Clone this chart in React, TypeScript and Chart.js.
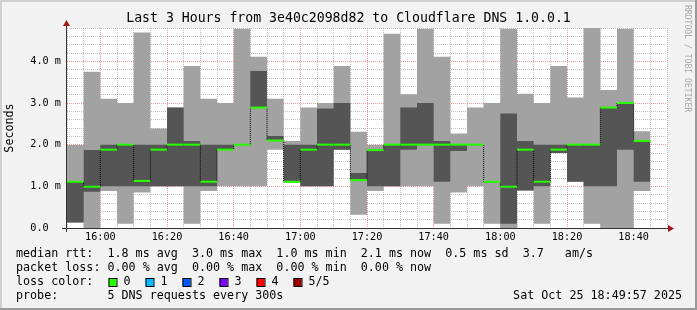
import React, { useEffect, useRef } from "react";
import { Chart, registerables } from "chart.js";

Chart.register(...registerables);

// ---- data (ms), one value per 5-minute step starting 15:50 ----
const stepMinutes = 5;
const windowMinutes = 180;
const maxRtt = [1.99, 3.75, 3.1, 3.0, 4.69, 2.39, 2.89, 3.89, 3.1, 3.0, 4.78, 4.11, 3.1, 2.09, 2.89, 3.0, 3.89, 2.31, 1.99, 4.66, 3.21, 4.78, 4.11, 2.27, 2.89, 3.0, 4.78, 3.22, 3.0, 3.89, 3.13, 4.8, 3.31, 4.78, 2.32];
const upperRtt = [1.11, 1.87, 2.0, 2.0, 2.0, 2.0, 2.89, 2.09, 2.0, 2.0, 2.0, 3.77, 2.21, 2.0, 2.0, 2.87, 3.0, 1.32, 1.88, 2.0, 2.89, 3.0, 2.09, 2.0, 2.0, 1.11, 2.75, 2.09, 2.0, 2.0, 2.0, 2.0, 2.89, 3.0, 2.09];
const medianRtt = [1.11, 0.99, 1.88, 2.0, 1.13, 1.88, 2.0, 2.0, 1.11, 1.88, 2.0, 2.89, 2.1, 1.11, 1.88, 2.0, 2.0, 1.15, 1.87, 2.0, 2.0, 2.0, 2.0, 2.0, 2.0, 1.11, 0.99, 1.88, 1.11, 1.88, 2.0, 2.0, 2.89, 3.0, 2.09];
const lowerRtt = [0.13, 0.87, 1.0, 1.0, 1.0, 1.0, 1.0, 1.0, 1.0, 1.88, 2.0, 2.89, 2.1, 1.1, 1.0, 1.0, 1.88, 1.15, 1.0, 1.0, 1.88, 2.0, 1.11, 1.85, 2.0, 1.11, 0.1, 0.9, 1.0, 1.8, 1.11, 1.0, 1.0, 1.88, 1.11];
const minRtt = [0.13, 0.0, 0.89, 0.1, 0.85, 1.0, 1.0, 0.1, 0.89, 1.0, 1.0, 1.0, 1.88, 1.1, 1.0, 1.0, 1.88, 0.32, 0.89, 1.0, 1.0, 1.0, 0.1, 0.85, 1.0, 0.1, 0.0, 0.9, 0.1, 1.8, 1.11, 0.1, 0.0, 0.0, 0.89];

const xTickLabels = ["16:00", "16:20", "16:40", "17:00", "17:20", "17:40", "18:00", "18:20", "18:40"];
const firstLabelOffset = 10; // minutes from window start (15:50) to 16:00
const yTickLabels = ["0.0  ", "1.0 m", "2.0 m", "3.0 m", "4.0 m"];
const yMax = 4.8;

const titleText = "Last 3 Hours from 3e40c2098d82 to Cloudflare DNS 1.0.0.1";
const yAxisTitle = "Seconds";
const rttStats = ["1.8 ms avg", "3.0 ms max", "1.0 ms min", "2.1 ms now", "0.5 ms sd"];
const amsValue = "3.7";
const lossStats = ["0.00 % avg", "0.00 % max", "0.00 % min", "0.00 % now"];
const lossLabels = ["0", "1", "2", "3", "4", "5/5"];
const lossColors = ["#26ff00", "#00b8ff", "#0059ff", "#7e00ff", "#ff0000", "#a10000"];
const probeText = "5 DNS requests every 300s";
const dateText = "Sat Oct 25 18:49:57 2025";
const watermark = "RRDTOOL / TOBI OETIKER";

const LIGHT = "#a2a2a2";
const DARK = "#555555";
const GREEN = lossColors[0];
const MONO = "'DejaVu Sans Mono', monospace";

function steps(values: number[]) {
  const pts: { x: number; y: number }[] = [];
  values.forEach((v, i) => {
    pts.push({ x: i * stepMinutes, y: v });
    pts.push({ x: (i + 1) * stepMinutes, y: v });
  });
  return pts;
}

const isMajorX = (v: number) => Math.abs(((v - firstLabelOffset) % 20 + 20) % 20) < 1e-6;
const isMajorY = (v: number) => Math.abs(v - Math.round(v)) < 1e-6;

const decoPlugin = {
  id: "deco",
  beforeDraw(chart: any) {
    const { ctx, chartArea: a, width: W, height: H } = chart;
    ctx.save();
    ctx.fillStyle = "#f2f2f2";
    ctx.fillRect(0, 0, W, H);
    ctx.fillStyle = "#cfcfcf";
    ctx.fillRect(0, 0, W, 2);
    ctx.fillRect(0, 0, 2, H);
    ctx.fillStyle = "#9a9a9a";
    ctx.fillRect(0, H - 2, W, 2);
    ctx.fillRect(W - 2, 0, 2, H);
    ctx.fillStyle = "#ffffff";
    ctx.fillRect(a.left, a.top, a.right - a.left, a.bottom - a.top);
    ctx.restore();
  },
  afterDraw(chart: any) {
    const { ctx, chartArea: a, width: W } = chart;
    ctx.save();
    // axes
    ctx.strokeStyle = "#333333";
    ctx.lineWidth = 1;
    ctx.beginPath();
    ctx.moveTo(a.left - 0.5, a.bottom + 4);
    ctx.lineTo(a.left - 0.5, a.top - 3);
    ctx.moveTo(a.left - 5, a.bottom + 0.5);
    ctx.lineTo(a.right + 3, a.bottom + 0.5);
    ctx.stroke();
    ctx.fillStyle = "#a01818";
    ctx.beginPath();
    ctx.moveTo(a.left - 0.5, a.top - 8);
    ctx.lineTo(a.left - 4, a.top - 2);
    ctx.lineTo(a.left + 3, a.top - 2);
    ctx.closePath();
    ctx.fill();
    ctx.beginPath();
    ctx.moveTo(a.right + 7, a.bottom + 0.5);
    ctx.lineTo(a.right + 1, a.bottom - 3);
    ctx.lineTo(a.right + 1, a.bottom + 4);
    ctx.closePath();
    ctx.fill();

    // title
    ctx.fillStyle = "#000";
    ctx.font = `13.2px ${MONO}`;
    ctx.textAlign = "center";
    ctx.textBaseline = "middle";
    ctx.fillText(titleText, W / 2, 19);

    // y axis title
    ctx.save();
    ctx.font = `11.7px ${MONO}`;
    ctx.translate(10, (a.top + a.bottom) / 2);
    ctx.rotate(-Math.PI / 2);
    ctx.fillText(yAxisTitle, 0, 0);
    ctx.restore();

    // watermark
    ctx.save();
    ctx.font = `8.1px ${MONO}`;
    ctx.fillStyle = "#a8a8a8";
    ctx.translate(687, 5);
    ctx.rotate(Math.PI / 2);
    ctx.textAlign = "left";
    ctx.fillText(watermark, 0, 0);
    ctx.restore();

    // legend
    ctx.font = `11.7px ${MONO}`;
    ctx.textAlign = "left";
    ctx.textBaseline = "middle";
    ctx.fillStyle = "#000";
    const x0 = 16;
    const line1 = "median rtt:  " + rttStats.join("  ") + "  " + amsValue + "   am/s";
    const line2 = "packet loss: " + lossStats.join("  ");
    ctx.fillText(line1, x0, 254);
    ctx.fillText(line2, x0, 268);
    ctx.fillText("loss color:", x0, 282);
    lossLabels.forEach((lab, i) => {
      const sx = 108.5 + i * 37;
      ctx.fillStyle = lossColors[i];
      ctx.fillRect(sx, 278, 8, 8);
      ctx.strokeStyle = "#000";
      ctx.lineWidth = 1;
      ctx.strokeRect(sx + 0.5, 278.5, 8, 8);
      ctx.fillStyle = "#000";
      ctx.fillText(lab, sx + 15, 282);
    });
    ctx.fillText("probe:       " + probeText, x0, 296);
    ctx.textAlign = "right";
    ctx.fillText(dateText, 682, 296);
    ctx.restore();
  },
};

export default function App() {
  const ref = useRef<HTMLCanvasElement | null>(null);
  useEffect(() => {
    if (!ref.current) return;
    const base = { pointRadius: 0, borderWidth: 0, tension: 0, fill: false as any };
    const chart = new Chart(ref.current, {
      type: "line",
      data: {
        datasets: [
          {
            ...base,
            label: "median",
            data: steps(medianRtt),
            borderWidth: 2,
            borderColor: GREEN,
            borderCapStyle: "butt",
            segment: {
              borderColor: (c: any) => (c.p0.parsed.x === c.p1.parsed.x ? "rgba(0,0,0,0)" : GREEN),
            },
          },
          {
            ...base,
            label: "median-steps",
            data: steps(medianRtt),
            borderWidth: 1,
            borderColor: "#000",
            borderDash: [1, 1],
          },
          { ...base, label: "upper", data: steps(upperRtt), fill: 3, backgroundColor: DARK },
          { ...base, label: "lower", data: steps(lowerRtt) },
          { ...base, label: "max", data: steps(maxRtt), fill: 5, backgroundColor: LIGHT },
          { ...base, label: "min", data: steps(minRtt) },
        ],
      },
      options: {
        animation: false,
        responsive: false,
        maintainAspectRatio: false,
        devicePixelRatio: 1,
        layout: { padding: { left: 0, top: 28, right: 30, bottom: 0 } },
        plugins: { legend: { display: false }, tooltip: { enabled: false }, title: { display: false } },
        scales: {
          x: {
            type: "linear",
            min: 0,
            max: windowMinutes,
            z: 1,
            afterFit: (s: any) => {
              s.height = 82;
            },
            ticks: {
              stepSize: stepMinutes,
              autoSkip: false,
              maxRotation: 0,
              padding: 3,
              color: "#000",
              font: { family: MONO, size: 10.2 },
              callback: (v: any) =>
                isMajorX(Number(v)) ? xTickLabels[Math.round((Number(v) - firstLabelOffset) / 20)] ?? "" : "",
            },
            grid: {
              drawTicks: false,
              lineWidth: 1,
              color: (c: any) => (isMajorX(c.tick.value) ? "rgba(240,120,120,0.75)" : "rgba(150,150,150,0.6)"),
            },
            border: { display: false, dash: [1, 1] },
          },
          y: {
            type: "linear",
            min: 0,
            max: yMax,
            z: 1,
            afterFit: (s: any) => {
              s.width = 67;
            },
            ticks: {
              stepSize: 0.2,
              autoSkip: false,
              padding: 6,
              color: "#000",
              font: { family: MONO, size: 10.2 },
              callback: (v: any) => (isMajorY(Number(v)) ? yTickLabels[Math.round(Number(v))] ?? "" : ""),
            },
            grid: {
              drawTicks: false,
              lineWidth: 1,
              color: (c: any) => (isMajorY(c.tick.value) ? "rgba(240,120,120,0.75)" : "rgba(150,150,150,0.6)"),
            },
            border: { display: false, dash: [1, 1] },
          },
        },
      } as any,
      plugins: [decoPlugin],
    });
    return () => chart.destroy();
  }, []);
  return (
    <div style={{ position: "absolute", left: 0, top: 0, width: 697, height: 310 }}>
      <canvas ref={ref} width={697} height={310} style={{ display: "block", width: 697, height: 310 }} />
    </div>
  );
}
